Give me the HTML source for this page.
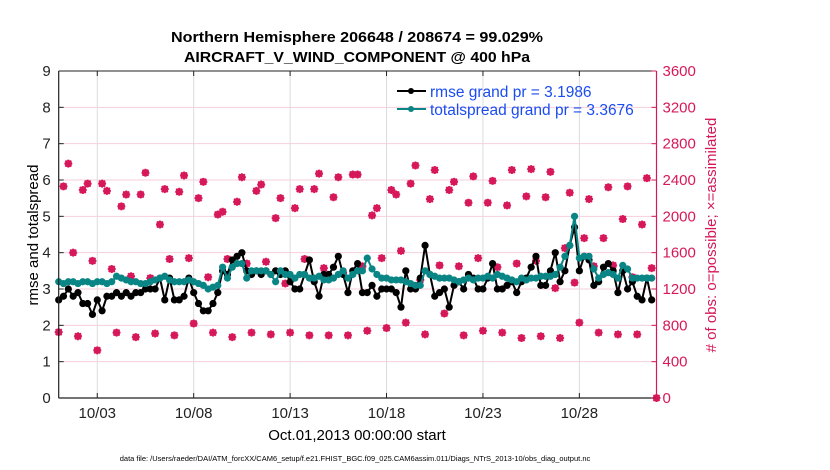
<!DOCTYPE html>
<html><head><meta charset="utf-8"><style>
html,body{margin:0;padding:0;background:#fff;}
svg{display:block;font-family:"Liberation Sans",sans-serif;}
</style></head><body>
<svg id="chart" width="830" height="470" viewBox="0 0 830 470">
<g id="grid"></g>
<g id="counts"></g>
<g id="series"></g>
<g id="axes"></g>
<text x="357" y="42" text-anchor="middle" font-size="15" font-weight="bold" textLength="372" lengthAdjust="spacingAndGlyphs">Northern Hemisphere 206648 / 208674 = 99.029%</text>
<text x="357" y="62" text-anchor="middle" font-size="15" font-weight="bold" textLength="346" lengthAdjust="spacingAndGlyphs">AIRCRAFT_V_WIND_COMPONENT @ 400 hPa</text>
<text x="0" y="0" transform="translate(38,235) rotate(-90)" text-anchor="middle" font-size="15">rmse and totalspread</text>
<text x="0" y="0" transform="translate(716,235) rotate(-90)" text-anchor="middle" font-size="15" fill="#d6185a"># of obs: o=possible; ×=assimilated</text>
<text x="357" y="440" text-anchor="middle" font-size="15">Oct.01,2013 00:00:00 start</text>
<text x="355" y="461" text-anchor="middle" font-size="7.5">data file: /Users/raeder/DAI/ATM_forcXX/CAM6_setup/f.e21.FHIST_BGC.f09_025.CAM6assim.011/Diags_NTrS_2013-10/obs_diag_output.nc</text>
<g>
<line x1="397" y1="91" x2="426" y2="91" stroke="#000" stroke-width="2"/>
<circle cx="411" cy="91" r="3" fill="#000"/>
<text x="430" y="97" font-size="15.5" fill="#1a4cf0">rmse grand pr = 3.1986</text>
<line x1="397" y1="109" x2="426" y2="109" stroke="#0a8585" stroke-width="2"/>
<circle cx="411" cy="109" r="3" fill="#0a8585"/>
<text x="430" y="115" font-size="15.5" fill="#1a4cf0">totalspread grand pr = 3.3676</text>
</g>
</svg>
<script>
const rmse=[2.7,2.8,3.0,2.8,2.9,2.6,2.6,2.3,2.7,2.4,2.8,2.8,2.9,2.8,2.9,2.8,2.9,2.9,3.0,3.0,3.0,3.3,2.7,3.3,2.7,2.7,2.8,3.3,2.9,2.6,2.4,2.4,2.6,2.9,3.5,3.4,3.8,3.9,4.0,3.5,3.4,3.5,3.4,3.5,3.4,3.5,3.4,3.5,3.2,3.0,3.0,3.4,3.8,3.2,2.8,3.4,3.4,3.6,3.9,3.4,2.9,3.5,3.7,2.9,2.9,3.1,2.8,3.0,3.0,3.0,2.9,2.5,3.5,3.0,3.0,3.3,4.2,3.4,2.8,2.9,3.0,2.5,3.1,3.2,3.0,3.4,3.3,3.0,3.0,3.3,3.7,3.0,3.0,3.1,3.2,2.9,3.2,3.3,3.6,3.9,3.1,3.1,3.5,4.0,3.2,3.5,4.2,4.7,3.5,3.9,3.8,3.1,3.2,3.6,3.7,3.5,2.9,3.5,3.0,3.2,2.8,2.7,3.3,2.7];
const spread=[3.2,3.15,3.2,3.2,3.15,3.2,3.2,3.15,3.2,3.2,3.15,3.2,3.35,3.3,3.25,3.2,3.2,3.15,3.15,3.2,3.25,3.3,3.35,3.25,3.2,3.2,3.2,3.25,3.2,3.15,3.1,3.0,3.05,3.1,3.6,3.3,3.6,3.7,3.7,3.3,3.5,3.5,3.5,3.5,3.4,3.2,3.5,3.4,3.4,3.3,3.4,3.4,3.3,3.3,3.35,3.25,3.25,3.3,3.4,3.5,3.3,3.4,3.5,3.5,3.85,3.55,3.4,3.3,3.3,3.25,3.25,3.25,3.2,3.15,3.1,3.1,3.5,3.4,3.35,3.3,3.3,3.3,3.25,3.2,3.25,3.3,3.25,3.3,3.3,3.35,3.3,3.4,3.35,3.3,3.25,3.2,3.3,3.25,3.3,3.3,3.35,3.35,3.35,3.4,3.6,3.9,4.2,5.0,3.85,3.9,3.9,3.55,3.3,3.4,3.45,3.4,3.3,3.65,3.55,3.3,3.3,3.3,3.3,3.3];
const counts=[725,2330,2580,1600,680,2290,2360,1510,525,2360,2280,1420,720,2110,2240,1340,670,2240,2480,1320,710,1910,2300,1530,690,2270,2450,1540,820,2200,2380,1330,720,2020,2050,1530,670,2160,2430,1480,720,2280,2350,1500,700,1980,2200,1260,720,2090,2300,1530,690,2300,2470,1430,690,2210,2430,1380,690,2460,2460,1450,740,2010,2090,1540,770,2290,2240,1620,830,2360,2560,1300,700,2190,2510,1460,930,2290,2380,1450,690,2150,2440,1540,740,2150,2390,1440,720,2120,2510,1480,660,2220,2520,1510,680,2210,2490,1210,660,1650,2260,1270,830,1760,2190,1450,720,1760,2320,1460,700,1970,2330,1330,700,1910,2420,1430,0];
const leftTicks=[0,1,2,3,4,5,6,7,8,9];
const rightTicks=[0,400,800,1200,1600,2000,2400,2800,3200,3600];
const dateTickDays=[2,7,12,17,22,27];
const dateTickLabels=["10/03","10/08","10/13","10/18","10/23","10/28"];
const stepDays=0.25;

const X0=58.7,X1=656.5,Y0=398,Y1=71,D0=0,D1=31;
const xs=d=>X0+(d-D0)/(D1-D0)*(X1-X0);
const yl=v=>Y0-v/9*(Y0-Y1);
const yr=v=>Y0-v/3600*(Y0-Y1);
const NS="http://www.w3.org/2000/svg";
function mk(tag,attrs,parent){const e=document.createElementNS(NS,tag);for(const k in attrs)e.setAttribute(k,attrs[k]);parent.appendChild(e);return e;}
const grid=document.getElementById('grid'),axes=document.getElementById('axes'),ser=document.getElementById('series'),cnt=document.getElementById('counts');
const PINK="#d6185a";
rightTicks.forEach(t=>{if(t>0&&t<3600){const l=mk('line',{x1:X0,x2:X1,y1:yr(t),y2:yr(t),stroke:"#f4cfdc","stroke-width":1},grid);

}});
dateTickDays.forEach(d=>{const l=mk('line',{x1:xs(d),x2:xs(d),y1:Y1,y2:Y0,stroke:"#dcdcdc","stroke-width":1},grid);

});
// counts markers
counts.forEach((c,i)=>{const x=xs(i*stepDays),y=yr(c);
const g=mk('g',{},cnt);


mk('circle',{cx:x,cy:y,r:3,fill:"none",stroke:PINK,"stroke-width":1.3},g);
mk('path',{d:`M${x-4},${y}H${x+4}M${x},${y-4}V${y+4}M${x-3},${y-3}L${x+3},${y+3}M${x-3},${y+3}L${x+3},${y-3}`,stroke:PINK,"stroke-width":1.8},g);});
function drawLine(arr,color,name){const pts=arr.map((v,i)=>xs(i*stepDays).toFixed(1)+","+yl(v).toFixed(1)).join(" ");
const pl=mk('polyline',{points:pts,fill:"none",stroke:color,"stroke-width":2},ser);


arr.forEach((v,i)=>{const c=mk('circle',{cx:xs(i*stepDays),cy:yl(v),r:3.6,fill:color},ser);

});}
drawLine(rmse,"#000","rmse");
drawLine(spread,"#0a8585","totalspread");
// axes box
mk('line',{x1:X0,x2:X1,y1:Y0,y2:Y0,stroke:"#222","stroke-width":1.2},axes);
mk('line',{x1:X0,x2:X1,y1:Y1,y2:Y1,stroke:"#222","stroke-width":1},axes);
mk('line',{x1:X0,x2:X0,y1:Y1,y2:Y0,stroke:"#222","stroke-width":1.2},axes);
mk('line',{x1:X1,x2:X1,y1:Y1,y2:Y0,stroke:PINK,"stroke-width":1.2},axes);
leftTicks.forEach(t=>{const y=yl(t);mk('line',{x1:X0,x2:X0+5,y1:y,y2:y,stroke:"#222"},axes);
const tx=mk('text',{x:X0-8,y:y+5,"text-anchor":"end","font-size":15,fill:"#222"},axes);tx.textContent=t;

});
rightTicks.forEach(t=>{const y=yr(t);mk('line',{x1:X1-5,x2:X1,y1:y,y2:y,stroke:PINK},axes);
const tx=mk('text',{x:X1+6,y:y+5,"font-size":15,fill:PINK},axes);tx.textContent=t;

});
dateTickDays.forEach((d,i)=>{const x=xs(d);mk('line',{x1:x,x2:x,y1:Y0,y2:Y0-5,stroke:"#222"},axes);mk('line',{x1:x,x2:x,y1:Y1,y2:Y1+5,stroke:"#222"},axes);
const tx=mk('text',{x:x,y:Y0+20,"text-anchor":"middle","font-size":15,fill:"#222"},axes);tx.textContent=dateTickLabels[i];

});
</script>
</body></html>
